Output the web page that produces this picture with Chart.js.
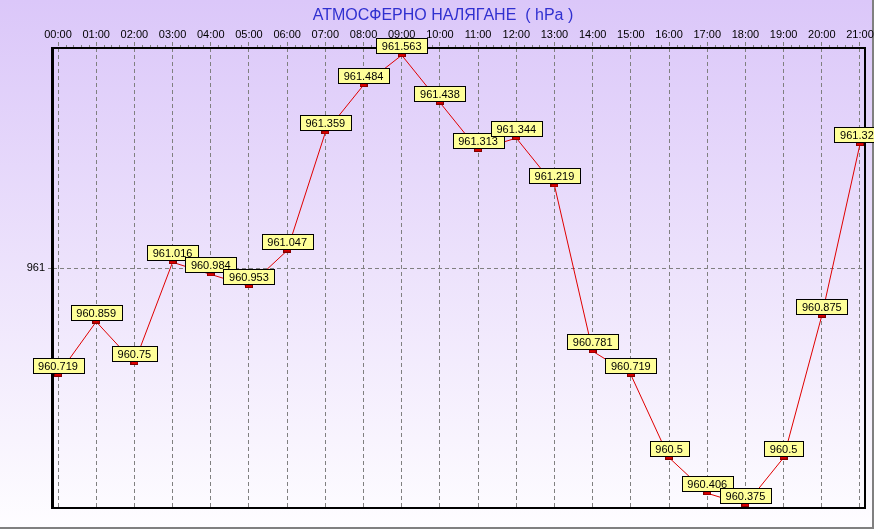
<!DOCTYPE html>
<html>
<head>
<meta charset="utf-8">
<title>Атмосферно налягане</title>
<script src="https://cdn.jsdelivr.net/npm/chart.js@4.4.0/dist/chart.umd.min.js"></script>
<style>
  html, body { margin: 0; padding: 0; background: #fff; }
  #wrap { width: 874px; height: 529px; }
</style>
</head>
<body>
<div id="wrap"><canvas id="pressureChart" width="874" height="529"></canvas></div>
<script>
// hourly readings
var hours = ['00:00', '01:00', '02:00', '03:00', '04:00', '05:00', '06:00', '07:00',
             '08:00', '09:00', '10:00', '11:00', '12:00', '13:00', '14:00', '15:00',
             '16:00', '17:00', '18:00', '19:00', '20:00', '21:00'];
var pressure = [960.719, 960.859, 960.75, 961.016, 960.984, 960.953, 961.047, 961.359,
                961.484, 961.563, 961.438, 961.313, 961.344, 961.219, 960.781, 960.719,
                960.5, 960.406, 960.375, 960.5, 960.875, 961.328];
var yTicks = [961];
var yMin = 960.367, yMax = 961.582;

var titleText = 'АТМОСФЕРНО НАЛЯГАНЕ  ( hPa )';
var fontFamily = '"Liberation Sans", Arial, sans-serif';

// little red bar used as the point marker
var marker = document.createElement('canvas');
marker.width = 8;
marker.height = 4;
var mctx = marker.getContext('2d');
mctx.fillStyle = '#800000';
mctx.fillRect(0, 0, 8, 4);
mctx.fillStyle = '#e00000';
mctx.fillRect(1, 1, 6, 2);

var decor = {
    id: 'decor',
    beforeDraw: function (chart) {
        var ctx = chart.ctx;
        var g = ctx.createLinearGradient(0, 0, 0, chart.height);
        g.addColorStop(0, '#dbc7f9');
        g.addColorStop(1, '#fefdff');
        ctx.save();
        ctx.fillStyle = g;
        ctx.fillRect(0, 0, chart.width, chart.height);
        // outer grey border
        ctx.fillStyle = '#808080';
        ctx.fillRect(0, chart.height - 2, chart.width, 2);
        ctx.fillRect(chart.width - 2, 0, 2, chart.height);
        // title
        ctx.fillStyle = '#3030d0';
        ctx.font = '16px ' + fontFamily;
        ctx.textAlign = 'center';
        ctx.textBaseline = 'middle';
        ctx.fillText(titleText, 443, 16);
        ctx.restore();
    },
    beforeDatasetsDraw: function (chart) {
        var ctx = chart.ctx, a = chart.chartArea, xs = chart.scales.x;
        ctx.save();
        // minor ticks along the top edge
        ctx.strokeStyle = '#808080';
        ctx.lineWidth = 1;
        for (var i = -1; i < hours.length; i++) {
            for (var k = 1; k < 5; k++) {
                var px = Math.round(xs.getPixelForValue(i + k / 5)) + 0.5;
                if (px < a.left || px > a.right) continue;
                ctx.beginPath();
                ctx.moveTo(px, a.top - 3);
                ctx.lineTo(px, a.top);
                ctx.stroke();
            }
        }
        // frame
        ctx.fillStyle = '#000';
        ctx.fillRect(a.left - 1, a.top - 1, a.right - a.left + 2, 2);
        ctx.fillRect(a.left - 1, a.bottom - 1, a.right - a.left + 2, 2);
        ctx.fillRect(a.left - 2, a.top - 1, 3, a.bottom - a.top + 2);
        ctx.fillRect(a.right - 1, a.top - 1, 2, a.bottom - a.top + 2);
        ctx.restore();
    },
    afterDatasetsDraw: function (chart) {
        var ctx = chart.ctx;
        var pts = chart.getDatasetMeta(0).data;
        ctx.save();
        ctx.font = '11px ' + fontFamily;
        ctx.textAlign = 'center';
        ctx.textBaseline = 'middle';
        pts.forEach(function (p, i) {
            var txt = String(pressure[i]);
            var w = Math.round(ctx.measureText(txt).width) + 11;
            var bx = Math.round(p.x - w / 2) + 0.5;
            var by = Math.round(p.y) - 17 + 0.5;
            ctx.fillStyle = '#ffff99';
            ctx.fillRect(bx, by, w, 15);
            ctx.strokeStyle = '#000';
            ctx.lineWidth = 1;
            ctx.strokeRect(bx, by, w, 15);
            ctx.fillStyle = '#000';
            ctx.fillText(txt, p.x, by + 8);
        });
        ctx.restore();
    }
};

var ctxPressure = document.getElementById('pressureChart').getContext('2d');
var pressureChart = new Chart(ctxPressure, {
    type: 'line',
    data: {
        datasets: [{
            data: pressure.map(function (v, i) { return { x: i, y: v }; }),
            borderColor: '#e00000',
            borderWidth: 1,
            tension: 0,
            fill: false,
            pointStyle: marker,
            pointRadius: 4,
            clip: false
        }]
    },
    options: {
        responsive: false,
        animation: false,
        devicePixelRatio: 1,
        layout: { padding: { top: 0, left: 0, right: 9, bottom: 21 } },
        plugins: {
            legend: { display: false },
            title: { display: false },
            tooltip: { enabled: false }
        },
        scales: {
            x: {
                type: 'linear',
                position: 'top',
                min: -0.131,
                max: 21.131,
                afterBuildTicks: function (s) {
                    s.ticks = hours.map(function (h, i) { return { value: i }; });
                },
                afterFit: function (s) { s.height = 48; },
                ticks: {
                    autoSkip: false,
                    maxRotation: 0,
                    padding: 0,
                    color: '#000',
                    font: { family: fontFamily, size: 11 },
                    callback: function (v) { return hours[v]; }
                },
                grid: {
                    color: '#808080',
                    lineWidth: 1,
                    tickLength: 6,
                    tickColor: '#808080',
                    tickBorderDash: [4, 3]
                },
                border: { display: false, dash: [4, 3] }
            },
            y: {
                type: 'linear',
                min: yMin,
                max: yMax,
                afterBuildTicks: function (s) {
                    s.ticks = yTicks.map(function (v) { return { value: v }; });
                },
                afterFit: function (s) { s.width = 53; },
                ticks: {
                    padding: 3,
                    color: '#000',
                    font: { family: fontFamily, size: 11 },
                    callback: function (v) { return String(v); }
                },
                grid: {
                    color: '#808080',
                    lineWidth: 1,
                    tickLength: 5,
                    tickColor: '#808080',
                    tickBorderDash: [4, 3]
                },
                border: { display: false, dash: [4, 3] }
            }
        }
    },
    plugins: [decor]
});
</script>
</body>
</html>
